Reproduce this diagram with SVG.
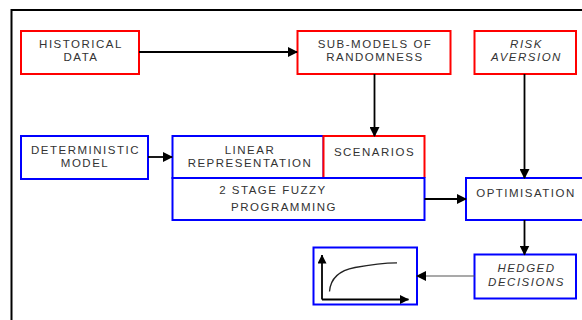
<svg xmlns="http://www.w3.org/2000/svg" width="582" height="320" viewBox="0 0 582 320">
<defs>
<style>
.red{fill:#fff;stroke:#ff0000;stroke-width:2}
.blue{fill:#fff;stroke:#0000ff;stroke-width:2}
text{font-family:"Liberation Sans",Arial,sans-serif;font-size:11.5px;fill:#333;letter-spacing:1.5px;text-anchor:middle}
.it{font-style:italic}
.ln{stroke:#000;stroke-width:1.8;fill:none}
</style>
<marker id="ah" markerWidth="10" markerHeight="10" refX="9" refY="5" orient="auto" markerUnits="userSpaceOnUse">
<path d="M0,0 L10,5 L0,10 Z" fill="#000"/>
</marker>
<marker id="ah2" markerWidth="9" markerHeight="9" refX="8.5" refY="4.5" orient="auto" markerUnits="userSpaceOnUse">
<path d="M0,0 L9,4.5 L0,9 Z" fill="#000"/>
</marker>
</defs>
<rect width="582" height="320" fill="#fff"/>
<g id="frame">
<path d="M11.5,320 V10 H582" fill="none" stroke="#000" stroke-width="2"/>
</g>
<g id="historical">
<rect class="red" x="21" y="31" width="118" height="43"/>
<text x="81" y="47.5">HISTORICAL</text>
<text x="81" y="61">DATA</text>
</g>
<g id="submodels">
<rect class="red" x="297.5" y="31" width="153" height="43"/>
<text x="375" y="47.5">SUB-MODELS OF</text>
<text x="375" y="61">RANDOMNESS</text>
</g>
<g id="risk">
<rect class="red" x="474.5" y="31" width="101.5" height="43"/>
<text class="it" x="526.5" y="47.5">RISK</text>
<text class="it" x="526.5" y="61">AVERSION</text>
</g>
<g id="deterministic">
<rect class="blue" x="21" y="136" width="127" height="43"/>
<text x="85.5" y="153.5">DETERMINISTIC</text>
<text x="85" y="167">MODEL</text>
</g>
<g id="linear">
<rect class="blue" x="172.5" y="136" width="151" height="42"/>
<text x="250" y="153.5">LINEAR</text>
<text x="250" y="167">REPRESENTATION</text>
</g>
<g id="scenarios">
<path d="M323.5,178 V136 H424.5 V178" fill="#fff" stroke="#ff0000" stroke-width="2"/>
<text x="374.5" y="156">SCENARIOS</text>
</g>
<g id="fuzzy">
<rect class="blue" x="172.5" y="178" width="252" height="42"/>
<text x="273" y="194">2 STAGE FUZZY</text>
<text x="284" y="211">PROGRAMMING</text>
</g>
<g id="optimisation">
<rect class="blue" x="466" y="178" width="130" height="42"/>
<text x="526" y="197">OPTIMISATION</text>
</g>
<g id="hedged">
<rect class="blue" x="474.5" y="254.5" width="101.5" height="44"/>
<text class="it" x="526.5" y="271.5">HEDGED</text>
<text class="it" x="526.5" y="286">DECISIONS</text>
</g>
<g id="graph">
<rect class="blue" x="313.5" y="247.5" width="103.5" height="57"/>
<path d="M322,299.5 V255" class="ln" stroke-width="2" marker-end="url(#ah2)"/>
<path d="M322,299.5 H408.5" class="ln" stroke-width="2" marker-end="url(#ah2)"/>
<path d="M329.5,291.5 Q331,272 355,267.5 T397,262.8" fill="none" stroke="#222" stroke-width="1.3"/>
</g>
<g id="connectors">
<path class="ln" d="M139,52 H297" marker-end="url(#ah)"/>
<path class="ln" d="M374.5,74 V136" marker-end="url(#ah)"/>
<path class="ln" d="M524.5,74 V178" marker-end="url(#ah)"/>
<path class="ln" d="M148,157 H172" marker-end="url(#ah)"/>
<path class="ln" d="M424.5,199 H466" marker-end="url(#ah)"/>
<path class="ln" d="M524.5,220 V254.5" marker-end="url(#ah)"/>
<path d="M474.5,276 H417" stroke="#555" stroke-width="1.2" fill="none" marker-end="url(#ah)"/>
</g>
</svg>
